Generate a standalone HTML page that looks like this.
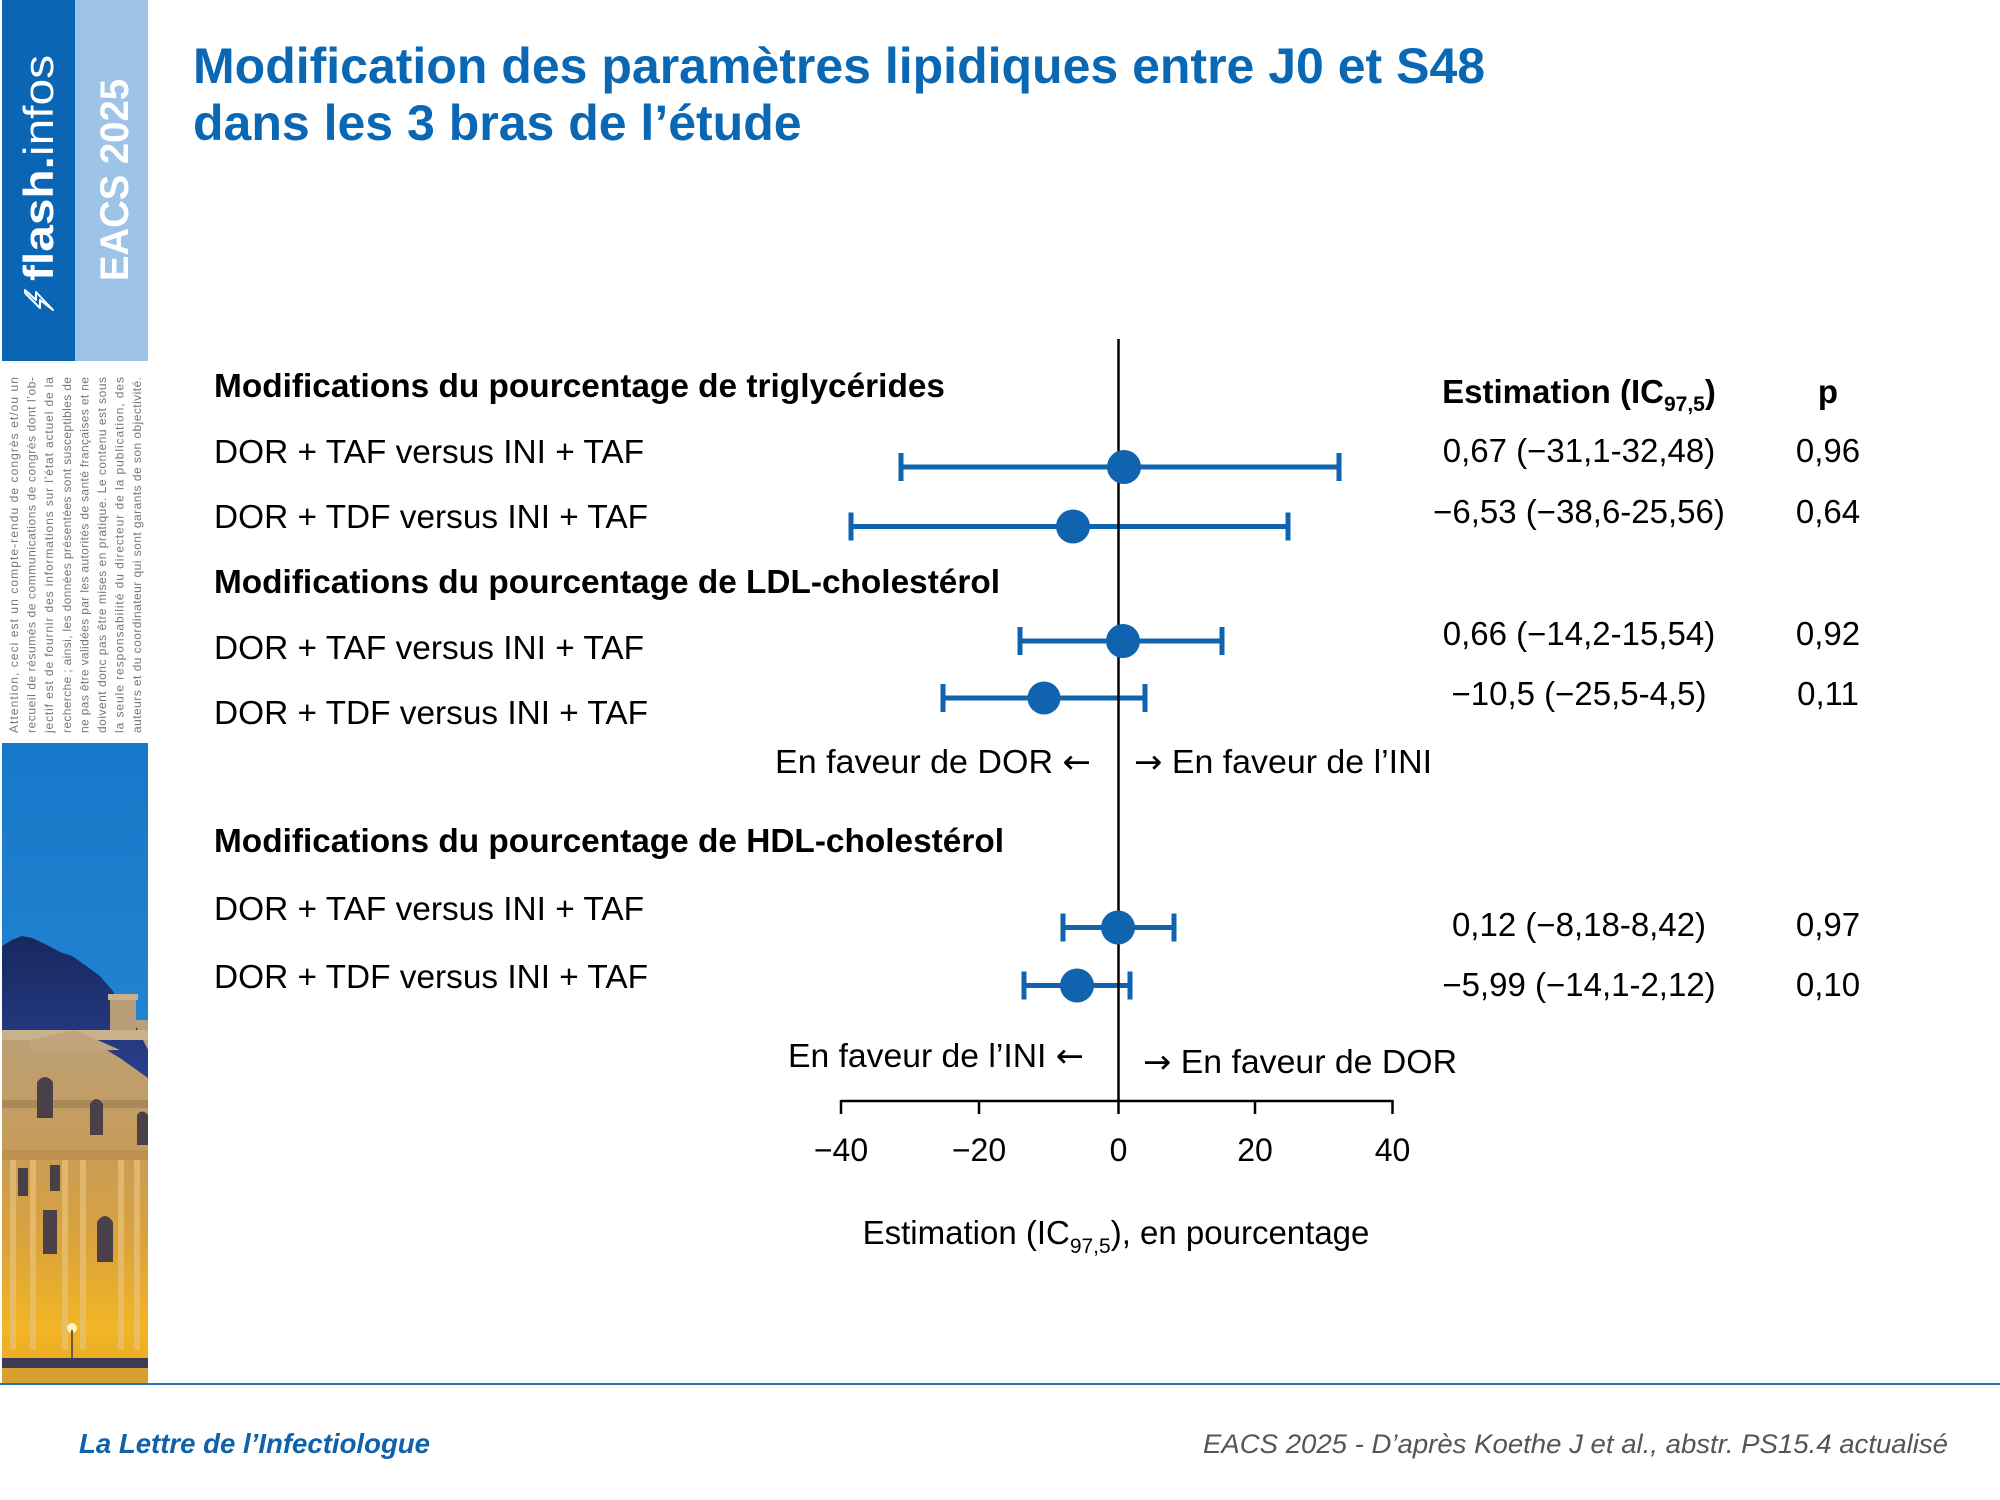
<!DOCTYPE html>
<html>
<head>
<meta charset="utf-8">
<style>
html,body{margin:0;padding:0;background:#ffffff;}
svg{display:block;}
text{font-family:"Liberation Sans",Arial,Helvetica,sans-serif;}
.arr{font-family:"DejaVu Sans","Liberation Sans",sans-serif;}
</style>
</head>
<body>
<svg width="2000" height="1500" viewBox="0 0 2000 1500" xmlns="http://www.w3.org/2000/svg">
<defs>
  <linearGradient id="sky" x1="0" y1="0" x2="0" y2="1">
    <stop offset="0" stop-color="#1678c8"/>
    <stop offset="1" stop-color="#2f93de"/>
  </linearGradient>
  <linearGradient id="roof" x1="0" y1="0" x2="0" y2="1">
    <stop offset="0" stop-color="#17285e"/>
    <stop offset="1" stop-color="#2a3f8c"/>
  </linearGradient>
  <linearGradient id="facade" x1="0" y1="0" x2="0" y2="1">
    <stop offset="0" stop-color="#b9a07a"/>
    <stop offset="0.35" stop-color="#c79c5a"/>
    <stop offset="0.6" stop-color="#d9a23c"/>
    <stop offset="0.85" stop-color="#f2b526"/>
    <stop offset="1" stop-color="#e8a820"/>
  </linearGradient>
  <clipPath id="photoClip"><rect x="2" y="743" width="146" height="640"/></clipPath>
</defs>

<!-- Left band -->
<rect x="2" y="0" width="73" height="361" fill="#0a66b4"/>
<rect x="75" y="0" width="73" height="361" fill="#9dc4e6"/>
<g transform="translate(53,281) rotate(-90)">
  <text x="0" y="0" font-size="42" fill="#ffffff" textLength="226" lengthAdjust="spacingAndGlyphs"><tspan font-weight="bold">flash.</tspan><tspan>infos</tspan></text>
  <polyline points="-12,-28 -27,-13 -19,-13 -29,0 -11,-17 -19,-17 -9,-28 -12,-28" fill="none" stroke="#ffffff" stroke-width="2" stroke-linejoin="round"/>
</g>
<g transform="translate(128,281) rotate(-90)">
  <text x="0" y="0" font-size="40" font-weight="bold" fill="#ffffff" textLength="202" lengthAdjust="spacingAndGlyphs">EACS 2025</text>
</g>

<!-- Disclaimer -->
<g font-size="12" fill="#777777">
  <text transform="translate(18,733) rotate(-90)" textLength="356" lengthAdjust="spacing">Attention, ceci est un compte-rendu de congrès et/ou un</text>
  <text transform="translate(35.6,733) rotate(-90)" textLength="356" lengthAdjust="spacing">recueil de résumés de communications de congrès dont l’ob-</text>
  <text transform="translate(53.2,733) rotate(-90)" textLength="356" lengthAdjust="spacing">jectif est de fournir des informations sur l’état actuel de la</text>
  <text transform="translate(70.8,733) rotate(-90)" textLength="356" lengthAdjust="spacing">recherche ; ainsi, les données présentées sont susceptibles de</text>
  <text transform="translate(88.4,733) rotate(-90)" textLength="356" lengthAdjust="spacing">ne pas être validées par les autorités de santé françaises et ne</text>
  <text transform="translate(106,733) rotate(-90)" textLength="356" lengthAdjust="spacing">doivent donc pas être mises en pratique. Le contenu est sous</text>
  <text transform="translate(123.6,733) rotate(-90)" textLength="356" lengthAdjust="spacing">la seule responsabilité du directeur de la publication, des</text>
  <text transform="translate(141.2,733) rotate(-90)" textLength="356" lengthAdjust="spacing">auteurs et du coordinateur qui sont garants de son objectivité.</text>
</g>

<!-- Photo (Louvre at dusk) -->
<g clip-path="url(#photoClip)">
  <rect x="2" y="743" width="146" height="640" fill="url(#sky)"/>
  <rect x="2" y="1020" width="146" height="363" fill="url(#facade)"/>
  <polygon points="2,946 12,940 22,936 32,938 45,944 60,952 72,956 85,965 100,976 112,990 125,1010 138,1030 148,1050 148,1078 120,1058 100,1046 70,1038 40,1034 2,1032" fill="url(#roof)"/>
  <rect x="110" y="996" width="26" height="40" fill="#b89c78"/>
  <rect x="108" y="994" width="30" height="6" fill="#c8b08a"/>
  <rect x="2" y="1030" width="146" height="10" fill="#c9b28a"/>
  <polygon points="30,1040 75,1030 120,1050 30,1052" fill="#bfa47c"/>
  <rect x="2" y="1100" width="146" height="8" fill="#a88a5a"/>
  <rect x="2" y="1150" width="146" height="10" fill="#c09050"/>
  <g fill="#4a4048">
    <path d="M37,1118 L37,1082 Q45,1072 53,1082 L53,1118 Z"/>
    <path d="M90,1135 L90,1104 Q96,1094 103,1104 L103,1135 Z"/>
    <path d="M137,1145 L137,1115 Q142,1108 148,1115 L148,1145 Z"/>
    <rect x="43" y="1210" width="14" height="44"/>
    <path d="M97,1262 L97,1222 Q105,1210 113,1222 L113,1262 Z"/>
    <rect x="18" y="1168" width="10" height="28"/>
    <rect x="50" y="1165" width="10" height="26"/>
  </g>
  <g fill="#e9c27a" opacity="0.7">
    <rect x="10" y="1160" width="6" height="190"/>
    <rect x="30" y="1160" width="6" height="190"/>
    <rect x="62" y="1160" width="6" height="190"/>
    <rect x="80" y="1160" width="6" height="190"/>
    <rect x="118" y="1160" width="6" height="190"/>
    <rect x="134" y="1160" width="6" height="190"/>
  </g>
  <circle cx="72" cy="1328" r="5" fill="#fff4c0"/>
  <rect x="71" y="1330" width="2" height="30" fill="#6a5a40"/>
  <rect x="2" y="1358" width="146" height="10" fill="#3e3a58"/>
  <rect x="2" y="1368" width="146" height="15" fill="#d8a030"/>
</g>

<!-- Footer line -->
<line x1="0" y1="1384" x2="2000" y2="1384" stroke="#2f6ea8" stroke-width="2"/>

<!-- Title -->
<g fill="#0a67b4" font-weight="bold" font-size="50">
  <text x="193" y="83">Modification des paramètres lipidiques entre J0 et S48</text>
  <text x="193" y="140">dans les 3 bras de l’étude</text>
</g>

<!-- Section headings -->
<g fill="#000000" font-weight="bold" font-size="33">
  <text x="214" y="397" textLength="731" lengthAdjust="spacingAndGlyphs">Modifications du pourcentage de triglycérides</text>
  <text x="214" y="593" textLength="786" lengthAdjust="spacingAndGlyphs">Modifications du pourcentage de LDL-cholestérol</text>
  <text x="214" y="852" textLength="790" lengthAdjust="spacingAndGlyphs">Modifications du pourcentage de HDL-cholestérol</text>
</g>

<!-- Row labels -->
<g fill="#000000" font-size="33">
  <text x="214" y="463" textLength="430" lengthAdjust="spacingAndGlyphs">DOR + TAF versus INI + TAF</text>
  <text x="214" y="528" textLength="434" lengthAdjust="spacingAndGlyphs">DOR + TDF versus INI + TAF</text>
  <text x="214" y="659" textLength="430" lengthAdjust="spacingAndGlyphs">DOR + TAF versus INI + TAF</text>
  <text x="214" y="724" textLength="434" lengthAdjust="spacingAndGlyphs">DOR + TDF versus INI + TAF</text>
  <text x="214" y="920" textLength="430" lengthAdjust="spacingAndGlyphs">DOR + TAF versus INI + TAF</text>
  <text x="214" y="988" textLength="434" lengthAdjust="spacingAndGlyphs">DOR + TDF versus INI + TAF</text>
</g>

<!-- Error bars -->
<g stroke="#1063ae" stroke-width="5" fill="none">
  <line x1="901" y1="467" x2="1339" y2="467"/>
  <line x1="901" y1="453" x2="901" y2="481"/>
  <line x1="1339" y1="453" x2="1339" y2="481"/>

  <line x1="851" y1="526.5" x2="1288" y2="526.5"/>
  <line x1="851" y1="512.5" x2="851" y2="540.5"/>
  <line x1="1288" y1="512.5" x2="1288" y2="540.5"/>

  <line x1="1020" y1="641" x2="1222" y2="641"/>
  <line x1="1020" y1="627" x2="1020" y2="655"/>
  <line x1="1222" y1="627" x2="1222" y2="655"/>

  <line x1="943" y1="698" x2="1145" y2="698"/>
  <line x1="943" y1="684" x2="943" y2="712"/>
  <line x1="1145" y1="684" x2="1145" y2="712"/>

  <line x1="1063" y1="927.5" x2="1174" y2="927.5"/>
  <line x1="1063" y1="913.5" x2="1063" y2="941.5"/>
  <line x1="1174" y1="913.5" x2="1174" y2="941.5"/>

  <line x1="1024" y1="985.5" x2="1130" y2="985.5"/>
  <line x1="1024" y1="971.5" x2="1024" y2="999.5"/>
  <line x1="1130" y1="971.5" x2="1130" y2="999.5"/>
</g>

<!-- Zero line and axis -->
<g stroke="#000000" stroke-width="2.5">
  <line x1="1118.5" y1="339" x2="1118.5" y2="1114"/>
  <line x1="841" y1="1101" x2="1393" y2="1101"/>
  <line x1="841" y1="1100" x2="841" y2="1114"/>
  <line x1="979" y1="1100" x2="979" y2="1114"/>
  <line x1="1255" y1="1100" x2="1255" y2="1114"/>
  <line x1="1392.5" y1="1100" x2="1392.5" y2="1114"/>
</g>

<!-- Points -->
<g fill="#1063ae">
  <circle cx="1124" cy="467" r="17"/>
  <circle cx="1073" cy="526.5" r="17"/>
  <circle cx="1123" cy="641" r="17"/>
  <circle cx="1044" cy="698" r="16.5"/>
  <circle cx="1118" cy="927.5" r="17"/>
  <circle cx="1077" cy="985.5" r="17"/>
</g>

<!-- Favour labels -->
<g fill="#000000" font-size="33">
  <text x="775" y="773" textLength="316" lengthAdjust="spacingAndGlyphs">En faveur de DOR <tspan class="arr">←</tspan></text>
  <text x="1134" y="773" textLength="298" lengthAdjust="spacingAndGlyphs"><tspan class="arr">→</tspan> En faveur de l’INI</text>
  <text x="788" y="1067" textLength="296" lengthAdjust="spacingAndGlyphs">En faveur de l’INI <tspan class="arr">←</tspan></text>
  <text x="1143" y="1073" textLength="314" lengthAdjust="spacingAndGlyphs"><tspan class="arr">→</tspan> En faveur de DOR</text>
</g>

<!-- Tick labels -->
<g fill="#000000" font-size="32" text-anchor="middle">
  <text x="841" y="1161">−40</text>
  <text x="979" y="1161">−20</text>
  <text x="1118.5" y="1161">0</text>
  <text x="1255" y="1161">20</text>
  <text x="1392.5" y="1161">40</text>
</g>

<!-- Axis title -->
<text x="1116" y="1244" font-size="33" fill="#000000" text-anchor="middle">Estimation (IC<tspan font-size="21" dy="9">97,5</tspan><tspan dy="-9">), en pourcentage</tspan></text>

<!-- Right column header -->
<text x="1579" y="403" font-size="33" font-weight="bold" fill="#000000" text-anchor="middle">Estimation (IC<tspan font-size="21" dy="8">97,5</tspan><tspan dy="-8">)</tspan></text>
<text x="1828" y="403" font-size="33" font-weight="bold" fill="#000000" text-anchor="middle">p</text>

<!-- Values -->
<g fill="#000000" font-size="33" text-anchor="middle">
  <text x="1579" y="462">0,67 (−31,1-32,48)</text>
  <text x="1579" y="523">−6,53 (−38,6-25,56)</text>
  <text x="1579" y="645">0,66 (−14,2-15,54)</text>
  <text x="1579" y="705">−10,5 (−25,5-4,5)</text>
  <text x="1579" y="936">0,12 (−8,18-8,42)</text>
  <text x="1579" y="996">−5,99 (−14,1-2,12)</text>

  <text x="1828" y="462">0,96</text>
  <text x="1828" y="523">0,64</text>
  <text x="1828" y="645">0,92</text>
  <text x="1828" y="705">0,11</text>
  <text x="1828" y="936">0,97</text>
  <text x="1828" y="996">0,10</text>
</g>

<!-- Footer texts -->
<text x="79" y="1453" font-size="27.5" font-weight="bold" font-style="italic" fill="#0f62aa" textLength="351" lengthAdjust="spacingAndGlyphs">La Lettre de l’Infectiologue</text>
<text x="1948" y="1453" font-size="27" font-style="italic" fill="#555555" text-anchor="end" textLength="745" lengthAdjust="spacingAndGlyphs">EACS 2025 - D’après Koethe J et al., abstr. PS15.4 actualisé</text>

</svg>
</body>
</html>
